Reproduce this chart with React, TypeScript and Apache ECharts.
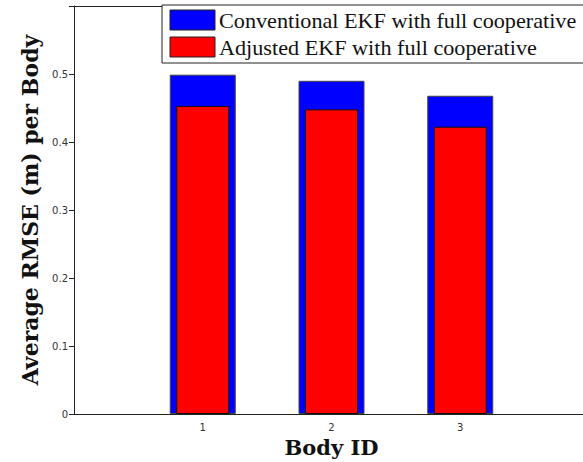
import React, { useEffect, useRef } from "react";
import * as echarts from "echarts";

const bodyIds = [1, 2, 3];
const conventionalRmse = [0.499, 0.49, 0.468];
const adjustedRmse = [0.453, 0.448, 0.4225];
const seriesNames = ["Conventional EKF with full cooperative", "Adjusted EKF with full cooperative"];
const seriesColors = ["#0000ff", "#ff0000"];
const xTicks = [1, 2, 3];

export default function App() {
  const ref = useRef<HTMLDivElement>(null);
  useEffect(() => {
    document.body.style.margin = "0";
    const chart = echarts.init(ref.current!, null, { renderer: "svg" });
    const serif = "DejaVu Serif";
    const legendFont = "Liberation Serif";
    const legendGraphic = [
      {
        type: "rect",
        shape: { x: 162, y: 5, width: 460, height: 58 },
        style: { fill: "#fff", stroke: "#222", lineWidth: 1 },
        z: 10,
      },
      ...seriesNames.flatMap((name, i) => [
        {
          type: "rect",
          shape: { x: 170, y: 10 + i * 27, width: 45, height: 20 },
          style: { fill: seriesColors[i], stroke: "#222", lineWidth: 1 },
          z: 11,
        },
        {
          type: "text",
          x: 219,
          y: 21 + i * 27,
          scaleX: 1.11,
          style: {
            text: name,
            fill: "#111",
            font: `20px "${legendFont}"`,
            verticalAlign: "middle",
          },
          z: 11,
        },
      ]),
    ];
    chart.setOption({
      animation: false,
      backgroundColor: "#fff",
      grid: {
        left: 74,
        top: 6,
        right: 51,
        bottom: 48,
        show: false,
        outerBoundsMode: "none",
      },
      graphic: legendGraphic,
      xAxis: [
        {
          type: "value",
          min: 0,
          max: 4,
          interval: 1,
          splitLine: { show: false },
          axisLine: { show: true, onZero: false, lineStyle: { color: "#222" } },
          axisTick: { show: false },
          axisLabel: {
            color: "#333",
            fontSize: 10,
            fontFamily: "DejaVu Sans",
            margin: 8,
            formatter: (v: number) => (xTicks.includes(v) ? String(v) : ""),
          },
          name: "Body ID",
          nameLocation: "middle",
          nameGap: 22,
          nameTextStyle: { fontFamily: serif, fontSize: 21, fontWeight: "bold", color: "#111" },
        },
        {
          type: "value",
          min: 0,
          max: 4,
          position: "top",
          splitLine: { show: false },
          axisLine: { show: true, onZero: false, lineStyle: { color: "#222" } },
          axisTick: { show: false },
          axisLabel: { show: false },
        },
      ],
      yAxis: {
        type: "value",
        min: 0,
        max: 0.6,
        interval: 0.1,
        splitLine: { show: false },
        axisLine: { show: true, lineStyle: { color: "#222" } },
        axisTick: { show: true, length: 5, lineStyle: { color: "#222" } },
        axisLabel: {
          color: "#333",
          fontSize: 10,
          fontFamily: "DejaVu Sans",
          margin: 6,
          formatter: (v: number) => (v > 0.55 ? "" : String(Math.round(v * 10) / 10)),
        },
        name: "Average RMSE (m) per Body",
        nameLocation: "middle",
        nameGap: 20,
        nameTextStyle: { fontFamily: serif, fontSize: 22, fontWeight: "bold", color: "#111" },
      },
      series: [
        {
          name: seriesNames[0],
          type: "bar",
          xAxisIndex: 0,
          barWidth: 66,
          data: bodyIds.map((id, i) => [id, conventionalRmse[i]]),
          itemStyle: { color: seriesColors[0], borderColor: "#444", borderWidth: 1 },
        },
        {
          name: seriesNames[1],
          type: "bar",
          xAxisIndex: 1,
          barWidth: 53,
          data: bodyIds.map((id, i) => [id, adjustedRmse[i]]),
          itemStyle: { color: seriesColors[1], borderColor: "#111", borderWidth: 1 },
        },
      ],
    });
    return () => chart.dispose();
  }, []);
  return (
    <div style={{ width: 583, height: 462, overflow: "hidden", position: "relative" }}>
      <div ref={ref} style={{ width: 640, height: 462, position: "absolute", left: 0, top: 0 }} />
    </div>
  );
}
